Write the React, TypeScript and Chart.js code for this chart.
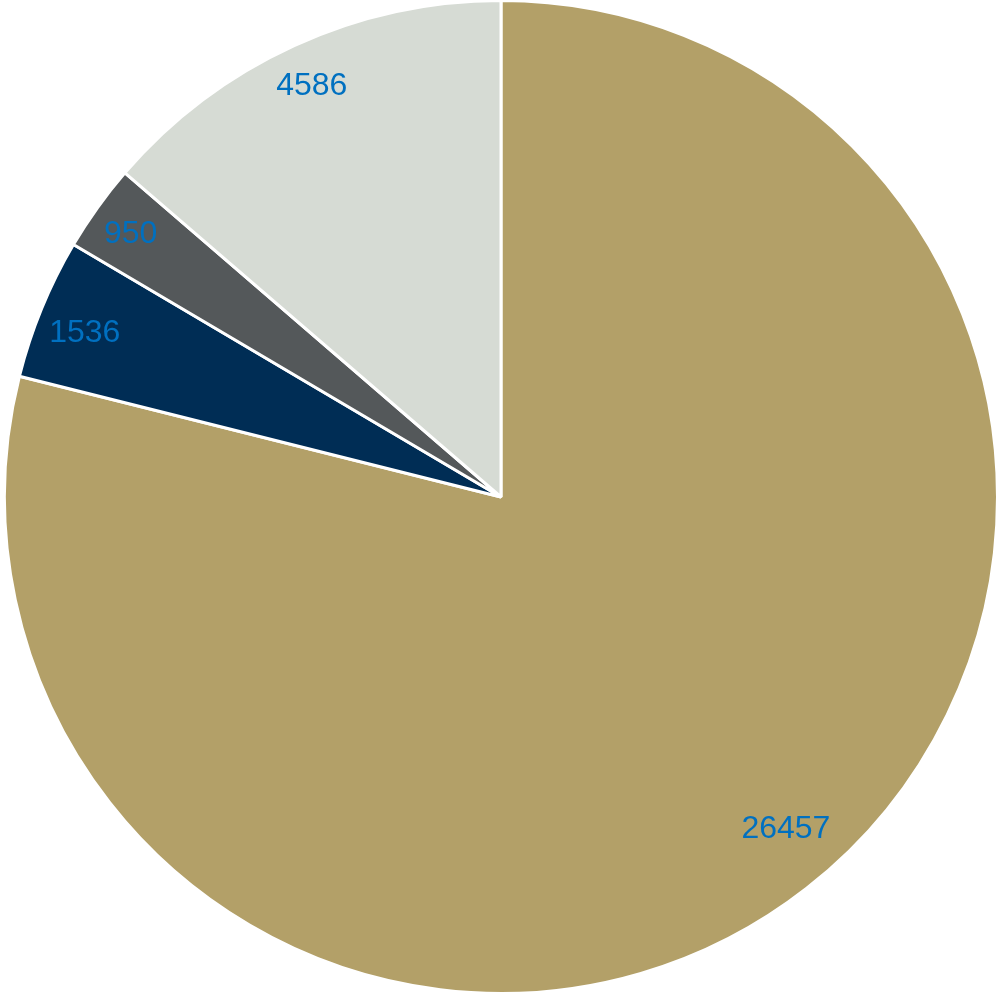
import React, { useEffect, useRef } from "react";
import { Chart, registerables } from "chart.js";

Chart.register(...registerables);

const categories = ["A", "B", "C", "D"];
const values = [26457, 1536, 950, 4586];
const colors = ["#B3A068", "#002D55", "#54585A", "#D6DBD4"];

// label placement (fraction of radius, angle tweak in degrees)
const labelRadius = [0.877, 0.903, 0.918, 0.915];
const labelAngleShift = [-2.9, -0.5, 0, 0];

const FONT_SIZE = 32;

const labelPlugin = {
  id: "sliceLabels",
  afterDatasetsDraw(chart: any) {
    const ctx = chart.ctx;
    const meta = chart.getDatasetMeta(0);
    ctx.save();
    ctx.font = `${FONT_SIZE}px "Liberation Sans", Arial, sans-serif`;
    ctx.fillStyle = "#0070C0";
    ctx.textAlign = "center";
    ctx.textBaseline = "alphabetic";
    meta.data.forEach((arc: any, i: number) => {
      const { x, y, startAngle, endAngle, outerRadius } = arc.getProps(
        ["x", "y", "startAngle", "endAngle", "outerRadius"],
        true
      );
      const mid = (startAngle + endAngle) / 2 + (labelAngleShift[i] * Math.PI) / 180;
      const r = outerRadius * labelRadius[i];
      const tx = x + Math.cos(mid) * r;
      const ty = y + Math.sin(mid) * r + FONT_SIZE * 0.358;
      ctx.fillText(String(values[i]), tx, ty);
    });
    ctx.restore();
  },
};

export default function App() {
  const ref = useRef<HTMLCanvasElement>(null);
  useEffect(() => {
    document.body.style.margin = "0";
    const chart = new Chart(ref.current!, {
      type: "pie",
      data: {
        labels: categories,
        datasets: [
          {
            data: values,
            backgroundColor: colors,
            borderColor: "#FFFFFF",
            borderWidth: 3,
            hoverBorderWidth: 3,
          },
        ],
      },
      options: {
        animation: false,
        responsive: false,
        layout: { padding: { left: 3, right: 3, top: 0, bottom: 2 } },
        plugins: {
          legend: { display: false },
          tooltip: { enabled: false },
        },
      },
      plugins: [labelPlugin],
    });
    return () => chart.destroy();
  }, []);
  return (
    <div style={{ width: 997, height: 996, overflow: "hidden", position: "relative" }}>
      <canvas
        ref={ref}
        width={1002}
        height={998}
        style={{ display: "block", position: "absolute", left: 0, top: -1 }}
      />
    </div>
  );
}
